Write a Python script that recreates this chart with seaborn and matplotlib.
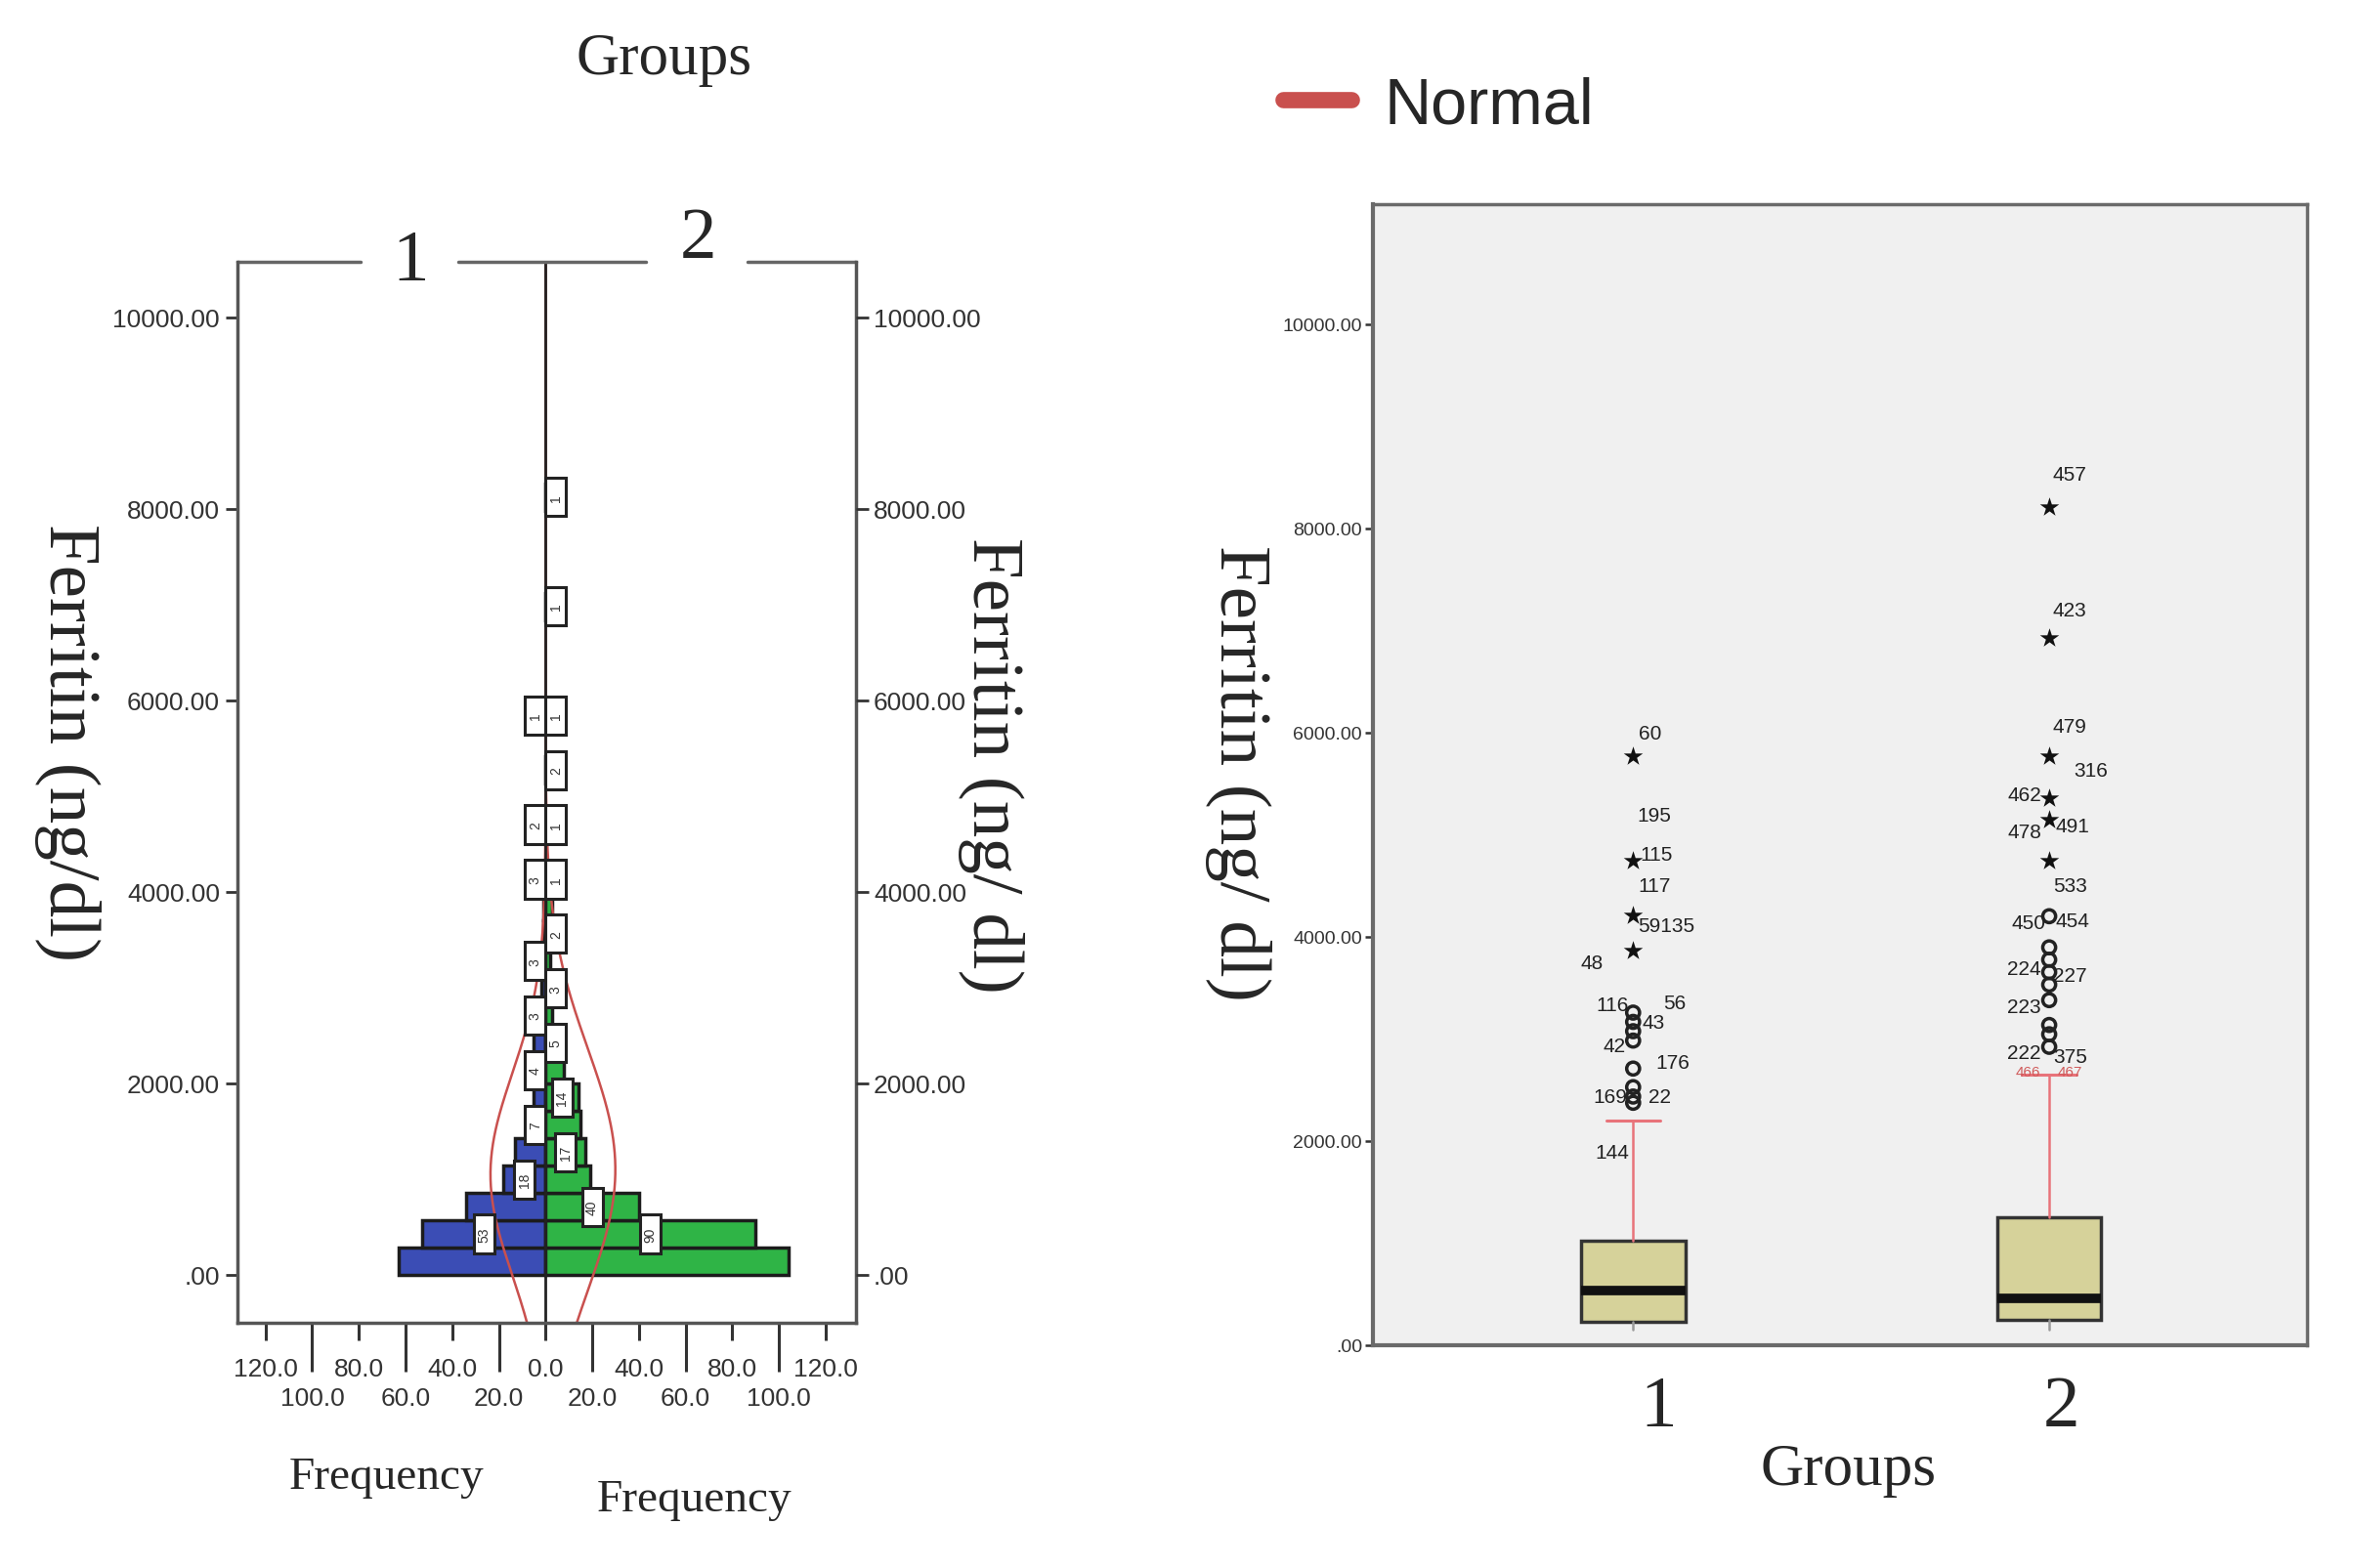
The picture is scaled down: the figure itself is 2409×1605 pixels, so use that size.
import numpy as np
import matplotlib
matplotlib.use("Agg")
import matplotlib.pyplot as plt
from matplotlib.lines import Line2D
from matplotlib.patches import Rectangle
import seaborn as sns

sns.set_style("white")
plt.rcParams["font.family"] = ["Liberation Serif", "DejaVu Serif"]

NARROW = ["Liberation Sans Narrow", "Liberation Sans", "DejaVu Sans"]

# ---- population pyramid data (bins of 285 ng/dl starting at 0) ----
bin_width = 285
bin_index = np.arange(29)
group1_counts = [63, 53, 34, 18, 13, 7, 5, 4, 5, 3, 2, 3, 1, 1, 3, 0, 2, 0, 0, 0,
                 1, 0, 0, 0, 0, 0, 0, 0, 0]
group2_counts = [104, 90, 40, 19, 17, 15, 14, 8, 5, 3, 3, 2, 2, 3, 1, 0, 1, 0, 2, 0,
                 1, 0, 0, 0, 1, 0, 0, 0, 1]
group1_label_bins = [1, 3, 5, 7, 9, 11, 14, 16, 20]
group2_label_bins = [1, 2, 4, 6, 8, 10, 12, 14, 16, 18, 20, 24, 28]

# normal curve estimates
group1_mean, group1_sd = 1050, 1050
group2_mean, group2_sd = 1100, 1262

# ---- box plot data ----
box_groups = ["1", "2"]
box_q1 = [225, 244]
box_median = [536, 457]
box_q3 = [1023, 1248]
box_whislo = [152, 152]
box_whishi = [2204, 2648]

star_group = [0, 0, 0, 0, 1, 1, 1, 1, 1, 1]
star_value = [5772, 4749, 4213, 3866, 8207, 6922, 5766, 5358, 5145, 4749]
circle_group = [0, 0, 0, 0, 0, 0, 0, 0, 1, 1, 1, 1, 1, 1, 1, 1, 1]
circle_value = [3257, 3166, 3075, 2983, 2709, 2527, 2435, 2374,
                4201, 3896, 3775, 3653, 3531, 3379, 3136, 3045, 2922]

outlier_text = ["60", "195", "115", "117", "59135", "48", "116", "56", "43", "42",
                "176", "169", "22", "144",
                "457", "423", "479", "316", "462", "478", "491", "533", "450", "454",
                "224", "227", "223", "222", "375", "466", "467"]
outlier_text_group = [0] * 14 + [1] * 17
outlier_text_value = [5997, 5187, 4810, 4505, 4110, 3744, 3330, 3349, 3166, 2935,
                      2770, 2435, 2435, 1887,
                      8524, 7196, 6058, 5632, 5388, 5023, 5084, 4505, 4140, 4152,
                      3683, 3623, 3318, 2861, 2831, 2679, 2679]
outlier_text_dx = [0.04, 0.05, 0.055, 0.05, 0.08, -0.10, -0.05, 0.10, 0.05, -0.045,
                   0.095, -0.055, 0.065, -0.05,
                   0.05, 0.05, 0.05, 0.10, -0.06, -0.06, 0.055, 0.05, -0.05, 0.055,
                   -0.06, 0.05, -0.06, -0.06, 0.05, -0.05, 0.05]

yticks = [0, 2000, 4000, 6000, 8000, 10000]
ytick_labels = [".00" if v == 0 else f"{v:.2f}" for v in yticks]

blue = "#3b4db5"
green = "#2fb446"
red = "#c9504e"
edge = "#1c1c1c"

fig = plt.figure(figsize=(24.09, 16.06), dpi=100)

# ================= left: population pyramid =================
ax = fig.add_axes([0.1009, 0.1563, 0.2627, 0.6762])
centers = bin_width * (bin_index + 0.5)
c1 = np.array(group1_counts)
c2 = np.array(group2_counts)
m1 = c1 > 0
m2 = c2 > 0
sns.barplot(x=-c1[m1], y=centers[m1], orient="h", native_scale=True, width=1.0,
            color=blue, saturation=1, edgecolor=edge, linewidth=2.5,
            errorbar=None, ax=ax)
sns.barplot(x=c2[m2], y=centers[m2], orient="h", native_scale=True, width=1.0,
            color=green, saturation=1, edgecolor=edge, linewidth=2.5,
            errorbar=None, ax=ax)

yy = np.linspace(-500, 10580, 600)
n1 = c1.sum()
n2 = c2.sum()
pdf1 = np.exp(-0.5 * ((yy - group1_mean) / group1_sd) ** 2) / (group1_sd * np.sqrt(2 * np.pi))
pdf2 = np.exp(-0.5 * ((yy - group2_mean) / group2_sd) ** 2) / (group2_sd * np.sqrt(2 * np.pi))
ax.plot(-n1 * bin_width * pdf1, yy, color=red, lw=1.8)
ax.plot(n2 * bin_width * pdf2, yy, color=red, lw=1.8)

ax.axvline(0, color="#222222", lw=2)

# frequency labels in small framed boxes
box_w, box_h = 8.8, 400
for counts, bins, sign in [(c1, group1_label_bins, -1), (c2, group2_label_bins, 1)]:
    for b in bins:
        xc = sign * max(counts[b] / 2, box_w / 2)
        ax.add_patch(Rectangle((xc - box_w / 2, centers[b] - box_h / 2), box_w, box_h,
                               fc="white", ec="#222222", lw=2.2, zorder=4))
        ax.text(xc, centers[b], str(counts[b]), rotation=90, ha="center", va="center",
                fontsize=10, family=NARROW, color="#333333", zorder=5)

ax.set_xlim(-132, 133)
ax.set_ylim(-500, 10580)
ax.set_xlabel("")
ax.set_ylabel("")
ax.set_yticks(yticks)
ax.set_yticklabels(ytick_labels, family=NARROW, fontsize=19, color="#333333")
major_x = [-120, -80, -40, 0, 40, 80, 120]
minor_x = [-100, -60, -20, 20, 60, 100]
ax.set_xticks(major_x)
ax.set_xticklabels([f"{abs(v):.1f}" for v in major_x], family=NARROW, fontsize=19,
                   color="#333333")
ax.set_xticks(minor_x, minor=True)
ax.set_xticklabels([f"{abs(v):.1f}" for v in minor_x], minor=True, family=NARROW,
                   fontsize=19, color="#333333")
ax.tick_params(axis="x", which="major", bottom=True, length=13, width=2.2, pad=12,
               color="#333333")
ax.tick_params(axis="x", which="minor", bottom=True, length=36, width=2.2, pad=11,
               color="#333333")
ax.tick_params(axis="y", which="major", left=True, length=9, width=2, pad=4,
               color="#333333")
for s in ["left", "right", "bottom"]:
    ax.spines[s].set_color("#555555")
    ax.spines[s].set_linewidth(2.5)
ax.spines["top"].set_visible(False)
for x0, x1 in [(0.0, 0.199), (0.357, 0.660), (0.825, 1.0)]:
    ax.plot([x0, x1], [1, 1], transform=ax.transAxes, color="#666666", lw=2.5,
            clip_on=False)
ax.text(0.279, 1.0, "1", transform=ax.transAxes, ha="center", va="center", fontsize=54)
ax.text(0.745, 1.021, "2", transform=ax.transAxes, ha="center", va="center", fontsize=54)

ax2 = ax.twinx()
ax2.set_ylim(-500, 10580)
ax2.set_yticks(yticks)
ax2.set_yticklabels(ytick_labels, family=NARROW, fontsize=19, color="#333333")
ax2.tick_params(axis="y", right=True, length=9, width=2, pad=4, color="#333333")
for s in ax2.spines.values():
    s.set_visible(False)

fig.text(0.282, 0.962, "Groups", ha="center", va="center", fontsize=44)
fig.text(0.0287, 0.527, "Ferritin (ng/dl)", rotation=-90, ha="center", va="center",
         fontsize=54)
fig.text(0.421, 0.512, "Ferritin (ng/ dl)", rotation=-90, ha="center", va="center",
         fontsize=54)
fig.text(0.164, 0.058, "Frequency", ha="center", va="center", fontsize=34)
fig.text(0.295, 0.044, "Frequency", ha="center", va="center", fontsize=34)

# ================= right: box plot =================
bx = fig.add_axes([0.5833, 0.142, 0.3968, 0.727])
bx.set_facecolor("#f0f0f0")
stats = []
for i in range(len(box_groups)):
    stats.append(dict(label=box_groups[i], q1=box_q1[i], med=box_median[i], q3=box_q3[i],
                      whislo=box_whislo[i], whishi=box_whishi[i], fliers=[]))
parts = bx.bxp(stats, positions=[0, 1], widths=0.25, capwidths=0.13, patch_artist=True,
               showfliers=False,
               boxprops=dict(facecolor="#d6d29a", edgecolor="#333333", linewidth=2.5),
               medianprops=dict(color="#111111", linewidth=7),
               whiskerprops=dict(color="#e8737a", linewidth=1.8),
               capprops=dict(color="#e8737a", linewidth=2.2))
# only the upper caps are visible in the original
for cap in parts["caps"][0::2]:
    cap.set_visible(False)
for wh in parts["whiskers"][0::2]:
    wh.set_color("#999999")

sns.scatterplot(x=star_group, y=star_value, marker="*", s=220, color="#111111",
                linewidth=0, ax=bx, zorder=5)
bx.scatter(circle_group, circle_value, marker="o", s=90, facecolors="none",
           edgecolors="#222222", linewidths=2.5, zorder=5)
for t, g, v, dx in zip(outlier_text, outlier_text_group, outlier_text_value,
                       outlier_text_dx):
    col = "#d05a5a" if t in ("466", "467") else "#222222"
    fs = 11 if t in ("466", "467") else 15
    bx.text(g + dx, v, t, ha="center", va="center", fontsize=fs, family=NARROW,
            color=col, zorder=6)

bx.set_xlim(-0.625, 1.62)
bx.set_ylim(0, 11170)
bx.set_xlabel("")
bx.set_ylabel("")
bx.set_yticks(yticks)
bx.set_yticklabels(ytick_labels, family=NARROW, fontsize=14, color="#333333")
bx.tick_params(axis="y", left=True, length=6, width=1.8, pad=2, color="#333333")
bx.set_xticks([0.06, 1.03])
bx.set_xticklabels(box_groups, fontsize=54)
bx.tick_params(axis="x", length=0, pad=22)
for s in bx.spines.values():
    s.set_color("#6a6a6a")
    s.set_linewidth(2.5)
bx.spines["left"].set_linewidth(3)
bx.spines["bottom"].set_linewidth(3)

fig.text(0.526, 0.507, "Ferritin (ng/ dl)", rotation=-90, ha="center", va="center",
         fontsize=54)
fig.text(0.785, 0.063, "Groups", ha="center", va="center", fontsize=44)

fig.legend(handles=[Line2D([0], [0], color=red, lw=12)], labels=["Normal"],
           loc="center left", bbox_to_anchor=(0.52, 0.932), frameon=False,
           handlelength=1.05, handletextpad=0.5,
           prop=dict(family=["Liberation Sans", "DejaVu Sans"], size=48))

fig.savefig("out.png", dpi=100)
